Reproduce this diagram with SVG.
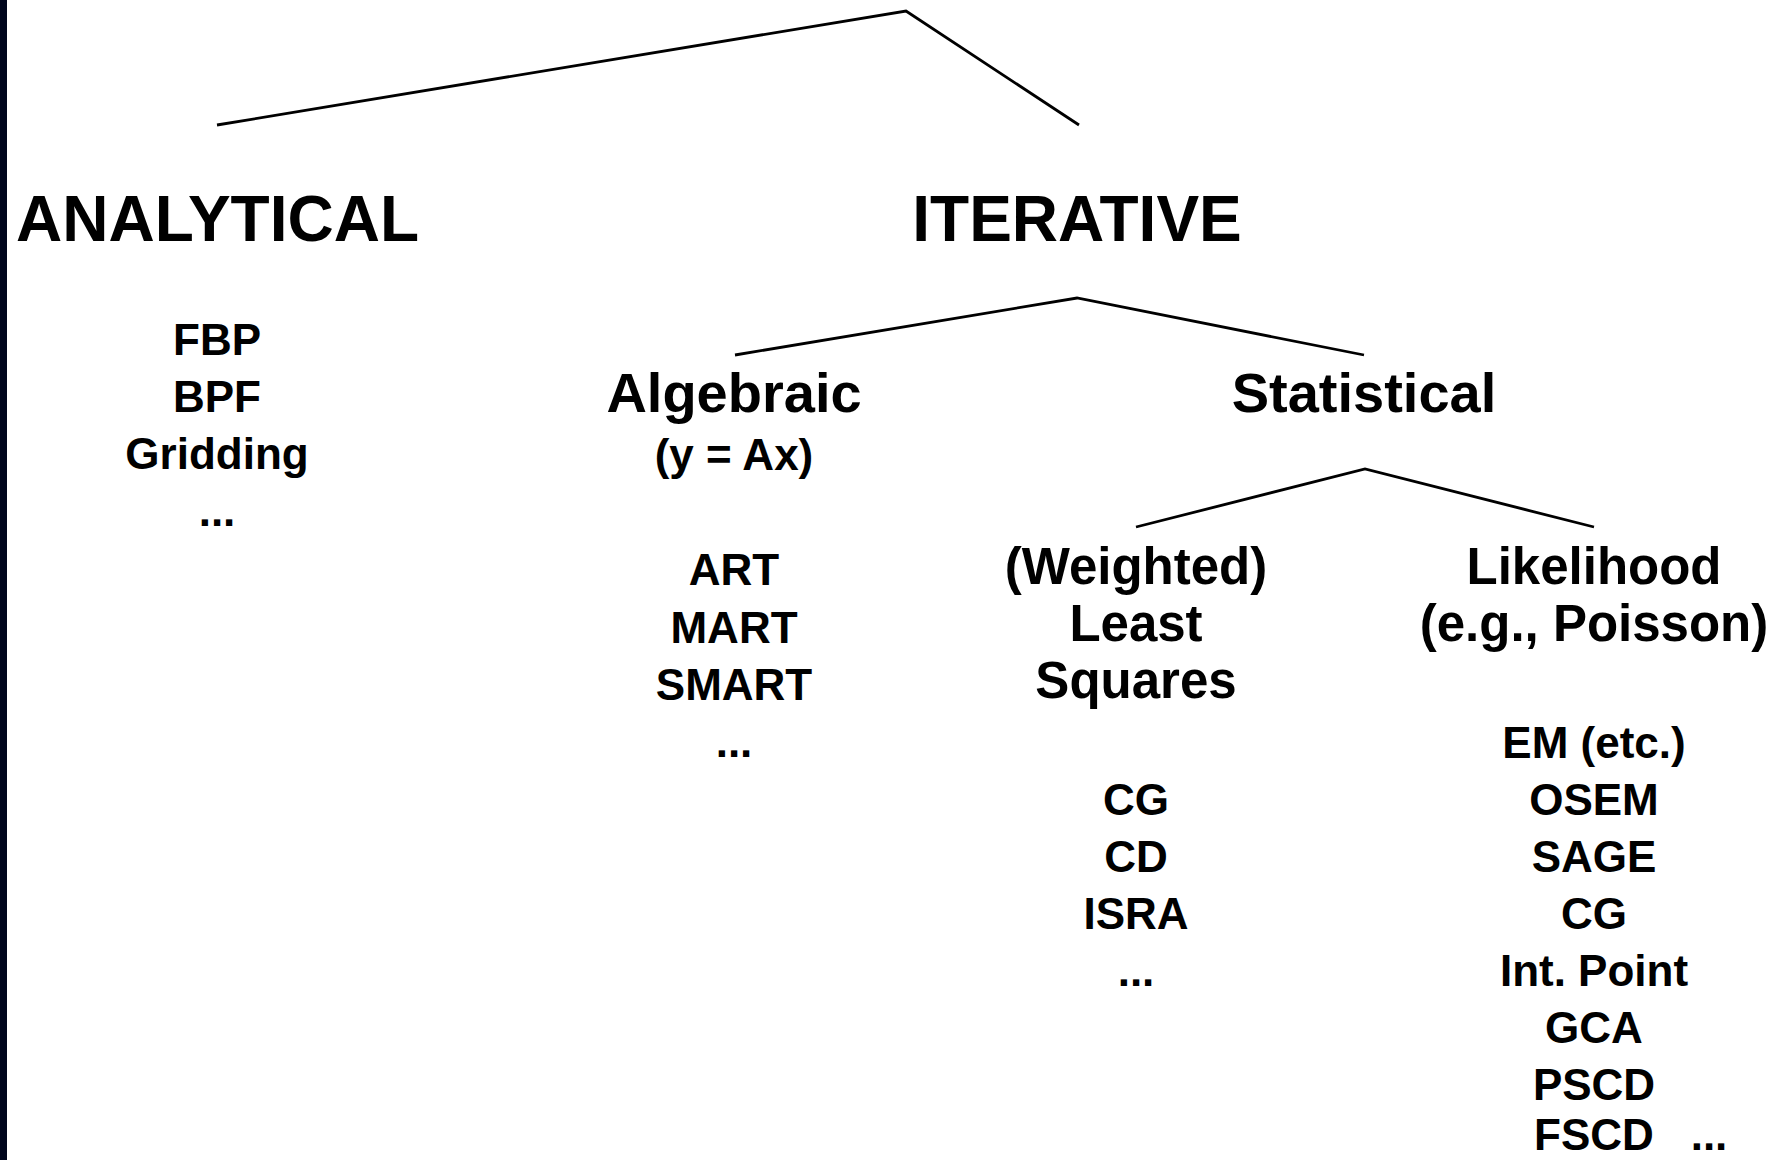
<svg xmlns="http://www.w3.org/2000/svg" width="1784" height="1160" viewBox="0 0 1784 1160">
<style>
text{font-family:Arial,"Liberation Sans",Arimo,Helvetica,sans-serif;font-weight:700;fill:#000;text-anchor:middle}
.h1{font-size:64px}
.h2{font-size:56px}
.h3{font-size:51px}
.it{font-size:44px}
.conn{fill:none;stroke:#000;stroke-width:2.8;stroke-linejoin:miter}
</style>
<rect x="0" y="0" width="1784" height="1160" fill="#fff"/>
<rect x="0" y="0" width="7" height="1160" fill="#00061c"/>
<g id="connectors">
<polyline class="conn" points="217,125 906,11 1079,125"/>
<polyline class="conn" points="735,355 1077,298 1364,355"/>
<polyline class="conn" points="1136,527 1365,469 1594,527"/>
</g>
<g id="analytical">
<text class="h1" x="217.5" y="241">ANALYTICAL</text>
<text class="it" x="217" y="355">FBP</text>
<text class="it" x="217" y="412">BPF</text>
<text class="it" x="217" y="469">Gridding</text>
<text class="it" x="217" y="526">...</text>
</g>
<g id="iterative">
<text class="h1" x="1077" y="241">ITERATIVE</text>
</g>
<g id="algebraic">
<text class="h2" x="734" y="412">Algebraic</text>
<text class="it" x="734" y="470">(y = Ax)</text>
<text class="it" x="734" y="585">ART</text>
<text class="it" x="734" y="643">MART</text>
<text class="it" x="734" y="700">SMART</text>
<text class="it" x="734" y="757">...</text>
</g>
<g id="statistical">
<text class="h2" x="1364" y="412">Statistical</text>
</g>
<g id="least-squares">
<text class="h3" x="1136" y="584">(Weighted)</text>
<text class="h3" x="1136" y="641">Least</text>
<text class="h3" x="1136" y="698">Squares</text>
<text class="it" x="1136" y="815">CG</text>
<text class="it" x="1136" y="872">CD</text>
<text class="it" x="1136" y="929">ISRA</text>
<text class="it" x="1136" y="986">...</text>
</g>
<g id="likelihood">
<text class="h3" x="1594" y="584">Likelihood</text>
<text class="h3" x="1594" y="641">(e.g., Poisson)</text>
<text class="it" x="1594" y="758">EM (etc.)</text>
<text class="it" x="1594" y="815">OSEM</text>
<text class="it" x="1594" y="872">SAGE</text>
<text class="it" x="1594" y="929">CG</text>
<text class="it" x="1594" y="986">Int. Point</text>
<text class="it" x="1594" y="1043">GCA</text>
<text class="it" x="1594" y="1100">PSCD</text>
<text class="it" x="1594" y="1150">FSCD</text>
<text class="it" x="1709" y="1150">...</text>
</g>
</svg>
